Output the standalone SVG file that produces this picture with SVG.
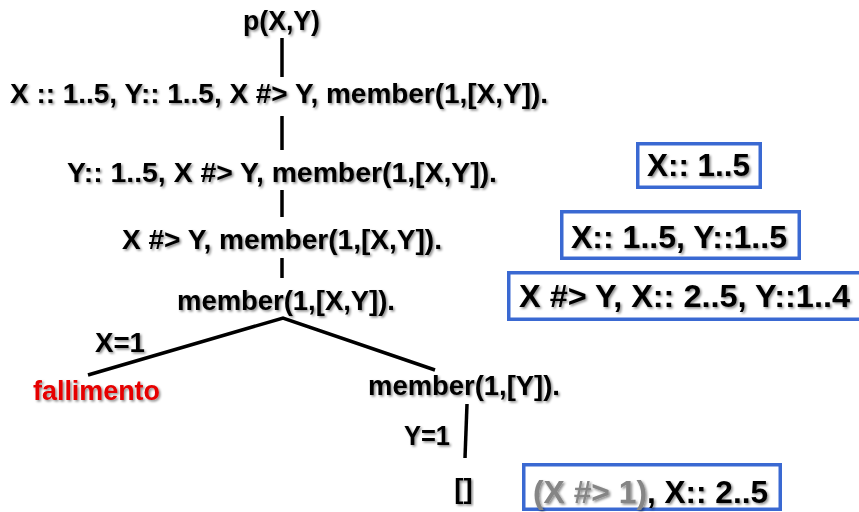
<svg xmlns="http://www.w3.org/2000/svg" width="859" height="512" viewBox="0 0 859 512">
  <defs>
    <filter id="sh" x="-5%" y="-20%" width="110%" height="150%">
      <feDropShadow dx="1.6" dy="1.6" stdDeviation="0.9" flood-color="#000" flood-opacity="0.45"/>
    </filter>
  </defs>
  <style>
    .t { font-family: "Liberation Sans", Arial, sans-serif; font-weight: bold; font-size: 27.5px; fill: #000; filter: url(#sh); }
    .b { font-family: "Liberation Sans", Arial, sans-serif; font-weight: bold; font-size: 31.7px; fill: #000; filter: url(#sh); }
    .red { fill: #e60000; }
    .grey { fill: #858585; }
    .box { fill: #fff; stroke: #3a69d2; stroke-width: 3.5; }
    .edge { stroke: #000; stroke-width: 3.5; fill: none; stroke-linecap: butt; }
  </style>
  <rect width="859" height="512" fill="#fff"/>

  <g id="connectors">
    <line class="edge" x1="282" y1="38" x2="282" y2="77" stroke-width="4"/>
    <line class="edge" x1="282" y1="116" x2="282" y2="150" stroke-width="4"/>
    <line class="edge" x1="282" y1="190" x2="282" y2="217" stroke-width="4"/>
    <line class="edge" x1="282" y1="258" x2="282" y2="278" stroke-width="4"/>
    <polyline class="edge" points="88,375 283,318 435,370" stroke-linejoin="miter"/>
    <line class="edge" x1="467" y1="404" x2="465" y2="458"/>
  </g>

  <g id="n-p"><text class="t" x="243" y="30" textLength="77" lengthAdjust="spacingAndGlyphs">p(X,Y)</text></g>
  <g id="n-1"><text class="t" x="10" y="103" textLength="538" lengthAdjust="spacingAndGlyphs">X :: 1..5, Y:: 1..5, X #&gt; Y, member(1,[X,Y]).</text></g>
  <g id="n-2"><text class="t" x="67" y="182" textLength="430" lengthAdjust="spacingAndGlyphs">Y:: 1..5, X #&gt; Y, member(1,[X,Y]).</text></g>
  <g id="n-3"><text class="t" x="122" y="249" textLength="320" lengthAdjust="spacingAndGlyphs">X #&gt; Y, member(1,[X,Y]).</text></g>
  <g id="n-4"><text class="t" x="177" y="310" textLength="218" lengthAdjust="spacingAndGlyphs">member(1,[X,Y]).</text></g>
  <g id="l-x1"><text class="t" x="95" y="352" textLength="50" lengthAdjust="spacingAndGlyphs">X=1</text></g>
  <g id="n-fail"><text class="t red" x="33" y="400" textLength="127" lengthAdjust="spacingAndGlyphs">fallimento</text></g>
  <g id="n-5"><text class="t" x="368" y="395" textLength="192" lengthAdjust="spacingAndGlyphs">member(1,[Y]).</text></g>
  <g id="l-y1"><text class="t" x="404" y="445" textLength="46" lengthAdjust="spacingAndGlyphs">Y=1</text></g>
  <g id="n-empty"><text class="t" x="463.5" y="498" text-anchor="middle">[]</text></g>

  <g id="box-1">
    <rect class="box" x="637.75" y="143.75" width="122.5" height="43.5"/>
    <text class="b" x="647" y="176" textLength="103" lengthAdjust="spacingAndGlyphs">X:: 1..5</text>
  </g>
  <g id="box-2">
    <rect class="box" x="561.75" y="211.75" width="237.5" height="46.5"/>
    <text class="b" x="571" y="248" textLength="216" lengthAdjust="spacingAndGlyphs">X:: 1..5, Y::1..5</text>
  </g>
  <g id="box-3">
    <rect class="box" x="508.75" y="272.75" width="356" height="46.5"/>
    <text class="b" x="519" y="307" textLength="331" lengthAdjust="spacingAndGlyphs">X #&gt; Y, X:: 2..5, Y::1..4</text>
  </g>
  <g id="box-4">
    <rect class="box" x="523.75" y="464.75" width="256.5" height="44.5"/>
    <text class="b grey" x="533" y="503" textLength="114" lengthAdjust="spacingAndGlyphs">(X #&gt; 1)</text>
    <text class="b" x="647" y="503" textLength="121" lengthAdjust="spacingAndGlyphs">, X:: 2..5</text>
  </g>
</svg>
